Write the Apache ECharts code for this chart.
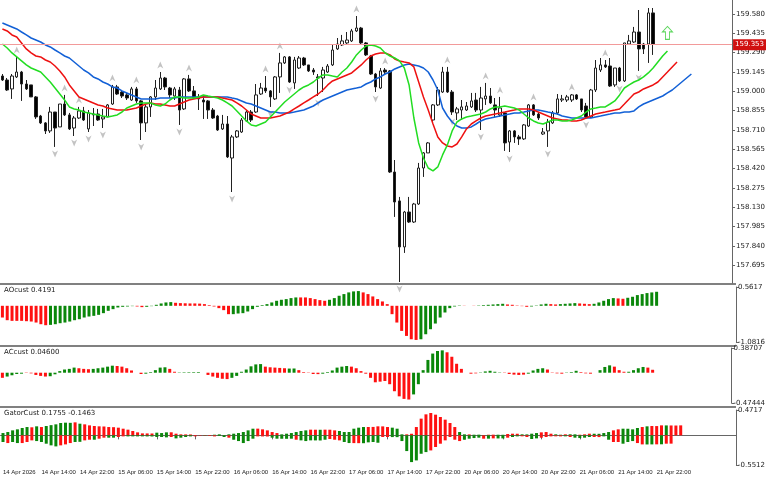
<!DOCTYPE html>
<html>
<head>
<meta charset="utf-8">
<script src="https://cdn.jsdelivr.net/npm/echarts@6/dist/echarts.min.js"></script>
<style>
  html, body { margin: 0; padding: 0; background: #fff; }
  #chart { width: 768px; height: 480px; }
</style>
</head>
<body>
<div id="chart"></div>
<script>
// hourly candles, [open, close, low, high]
const candles = [
  [159.115,159.085,159.078,159.13],[159.085,159.01,159.003,159.1],[159.018,159.115,158.943,159.13],[159.108,159.145,159.1,159.258],
  [159.145,159.055,158.928,159.153],[159.055,159.018,159.01,159.085],[159.048,158.958,158.958,159.048],[158.958,158.808,158.793,158.965],
  [158.815,158.763,158.755,158.823],[158.763,158.703,158.68,158.77],[158.703,158.845,158.688,158.883],[158.845,158.725,158.583,158.845],
  [158.733,158.905,158.733,158.905],[158.905,158.823,158.815,158.973],[158.823,158.718,158.71,158.838],[158.725,158.8,158.665,158.815],
  [158.8,158.853,158.793,158.883],[158.853,158.785,158.778,158.883],[158.718,158.838,158.695,158.86],[158.823,158.83,158.74,158.875],
  [158.83,158.785,158.778,158.868],[158.793,158.808,158.725,158.868],[158.808,158.898,158.808,158.905],[158.905,159.033,158.898,159.048],
  [159.033,158.98,158.973,159.048],[158.995,158.965,158.95,159.01],[158.973,158.95,158.935,158.988],[158.935,159.018,158.928,159.033],
  [159.018,158.928,158.913,159.033],[158.928,158.763,158.635,158.935],[158.763,158.883,158.695,158.898],[158.883,158.958,158.808,158.965],
  [158.958,159.025,158.935,159.085],[159.018,159.1,159.01,159.145],[159.1,159.033,159.01,159.108],[159.025,158.973,158.95,159.033],
  [158.965,159.018,158.935,159.033],[159.01,158.86,158.748,159.033],[158.868,159.093,158.86,159.1],[159.093,159.003,158.995,159.123],
  [159.003,158.95,158.943,159.04],[158.958,158.943,158.86,158.98],[158.935,158.92,158.793,158.965],[158.928,158.86,158.793,158.935],
  [158.86,158.8,158.793,158.875],[158.815,158.71,158.703,158.823],[158.718,158.755,158.71,158.823],[158.755,158.508,158.5,158.815],
  [158.5,158.658,158.245,158.673],[158.658,158.703,158.65,158.71],[158.695,158.785,158.688,158.8],[158.778,158.845,158.77,158.86],
  [158.845,158.785,158.77,158.86],[158.845,158.973,158.838,159.055],[158.98,159.025,158.973,159.063],[159.025,159.003,158.988,159.115],
  [159.003,158.958,158.883,159.01],[158.943,159.108,158.935,159.115],[159.108,159.213,158.988,159.288],[159.213,159.258,159.205,159.265],
  [159.258,159.07,159.063,159.265],[159.063,159.235,159.018,159.258],[159.175,159.25,159.168,159.265],[159.25,159.198,159.19,159.258],
  [159.198,159.153,159.145,159.198],[159.16,159.145,159.123,159.175],[159.108,159.1,158.965,159.13],[159.1,159.16,158.995,159.183],
  [159.145,159.19,159.138,159.205],[159.198,159.31,159.19,159.348],[159.318,159.355,159.31,159.4],[159.348,159.378,159.34,159.423],
  [159.363,159.385,159.355,159.445],[159.378,159.453,159.37,159.468],[159.453,159.475,159.445,159.565],[159.475,159.363,159.355,159.483],
  [159.363,159.273,159.265,159.37],[159.265,159.13,159.123,159.273],[159.13,159.033,158.995,159.138],[159.025,159.153,159.018,159.175],
  [159.16,159.145,159.123,159.175],[159.153,158.395,158.388,159.16],[158.395,158.17,158.058,158.485],[158.178,157.833,157.57,158.208],
  [157.833,158.095,157.788,158.103],[158.095,158.02,158.013,158.208],[158.02,158.155,158.013,158.163],[158.155,158.425,158.148,158.463],
  [158.425,158.538,158.358,158.545],[158.538,158.613,158.538,158.62],[158.785,158.898,158.77,158.905],[158.898,159.01,158.89,159.033],
  [158.995,159.145,158.988,159.183],[159.145,158.995,158.988,159.183],[158.995,158.845,158.823,159.01],[158.838,158.868,158.785,158.883],
  [158.86,158.883,158.785,158.935],[158.86,158.89,158.853,158.92],[158.883,158.928,158.875,158.988],[158.935,158.86,158.845,158.988],
  [158.86,158.95,158.71,159.033],[158.943,158.965,158.898,159.063],[158.965,158.913,158.905,159.025],[158.898,158.86,158.808,158.95],
  [158.823,158.875,158.808,158.958],[158.838,158.613,158.553,158.845],[158.62,158.703,158.545,158.71],[158.703,158.658,158.613,158.71],
  [158.658,158.643,158.598,158.673],[158.643,158.748,158.635,158.755],[158.74,158.898,158.733,158.905],[158.898,158.823,158.815,158.905],
  [158.83,158.8,158.785,158.845],[158.68,158.695,158.673,158.725],[158.703,158.77,158.583,158.793],[158.763,158.838,158.755,158.853],
  [158.838,158.943,158.823,158.98],[158.935,158.943,158.92,158.973],[158.935,158.958,158.92,158.973],[158.935,158.973,158.92,158.98],
  [158.973,158.943,158.935,158.98],[158.943,158.86,158.845,158.943],[158.89,158.808,158.8,158.913],[158.808,159.01,158.8,159.018],
  [159.01,159.175,158.995,159.235],[159.16,159.198,159.145,159.25],[159.198,159.183,159.175,159.235],[159.19,159.04,159.033,159.25],
  [159.048,159.175,159.033,159.175],[159.175,159.078,159.07,159.183],[159.078,159.363,159.07,159.363],[159.355,159.378,159.348,159.423],
  [159.37,159.445,159.363,159.483],[159.445,159.318,159.153,159.61],[159.355,159.318,159.28,159.363],[159.355,159.588,159.213,159.625],
  [159.588,159.353,159.273,159.625]
];

// alligator: jaw (blue), teeth (red), lips (green), already shifted forward
const jaw = [
  159.513,159.498,159.483,159.468,159.445,159.423,159.4,159.385,159.37,159.348,159.333,159.31,159.288,159.265,159.25,159.22,
  159.19,159.16,159.138,159.108,159.093,159.07,159.055,159.033,159.025,159.003,158.988,158.973,158.958,158.943,158.943,158.943,
  158.943,158.95,158.95,158.95,158.95,158.958,158.958,158.958,158.958,158.958,158.958,158.958,158.958,158.958,158.958,158.958,
  158.95,158.943,158.928,158.913,158.905,158.89,158.875,158.86,158.845,158.845,158.838,158.838,158.838,158.845,158.853,158.86,
  158.875,158.89,158.913,158.935,158.95,158.965,158.98,158.995,159.01,159.018,159.025,159.033,159.055,159.07,159.093,159.108,
  159.13,159.145,159.168,159.183,159.198,159.205,159.198,159.19,159.175,159.145,159.085,159.01,158.875,158.815,158.77,158.74,
  158.725,158.725,158.733,158.755,158.778,158.793,158.8,158.808,158.815,158.823,158.83,158.838,158.838,158.845,158.853,158.86,
  158.86,158.853,158.845,158.838,158.83,158.815,158.808,158.8,158.8,158.8,158.8,158.8,158.808,158.815,158.823,158.83,
  158.838,158.838,158.845,158.845,158.853,158.883,158.905,158.92,158.935,158.95,158.965,158.988,159.01,159.04,159.07,159.1,159.13
];
const teeth = [
  159.468,159.453,159.423,159.408,159.363,159.318,159.288,159.265,159.258,159.235,159.22,159.19,159.153,159.108,159.048,159.003,
  158.958,158.943,158.928,158.913,158.898,158.89,158.875,158.868,158.86,158.86,158.86,158.868,158.875,158.89,158.905,158.913,
  158.905,158.905,158.898,158.89,158.89,158.905,158.92,158.935,158.943,158.95,158.958,158.958,158.958,158.958,158.95,158.943,
  158.935,158.913,158.89,158.86,158.83,158.815,158.8,158.8,158.8,158.808,158.815,158.83,158.845,158.868,158.89,158.913,
  158.935,158.958,158.98,159.01,159.048,159.078,159.093,159.108,159.123,159.138,159.168,159.198,159.235,159.265,159.28,159.288,
  159.288,159.273,159.243,159.228,159.22,159.213,159.183,159.07,158.958,158.86,158.755,158.658,158.613,158.59,158.583,158.605,
  158.658,158.718,158.755,158.778,158.8,158.815,158.823,158.83,158.838,158.845,158.853,158.86,158.868,158.868,158.868,158.86,
  158.845,158.83,158.815,158.8,158.793,158.785,158.785,158.778,158.778,158.785,158.8,158.815,158.83,158.838,158.845,158.853,
  158.86,158.868,158.905,158.943,158.98,158.995,159.018,159.033,159.048,159.07,159.108,159.145,159.183,159.22
];
const lips = [
  159.355,159.325,159.288,159.258,159.228,159.198,159.175,159.16,159.145,159.108,159.07,159.025,158.98,158.935,158.883,158.868,
  158.86,158.845,158.838,158.83,158.823,158.815,158.808,158.815,158.823,158.845,158.875,158.89,158.905,158.913,158.913,158.913,
  158.898,158.89,158.905,158.935,158.958,158.958,158.95,158.95,158.95,158.958,158.973,158.965,158.958,158.95,158.935,158.913,
  158.89,158.853,158.815,158.778,158.748,158.74,158.755,158.77,158.808,158.845,158.883,158.92,158.95,158.98,159.01,159.033,
  159.048,159.07,159.1,159.123,159.123,159.115,159.108,159.145,159.175,159.22,159.273,159.31,159.34,159.348,159.34,159.325,
  159.288,159.265,159.25,159.228,159.175,159.048,158.8,158.613,158.5,158.425,158.403,158.433,158.523,158.598,158.703,158.77,
  158.793,158.808,158.815,158.823,158.83,158.845,158.868,158.883,158.883,158.89,158.883,158.875,158.86,158.83,158.8,158.778,
  158.763,158.755,158.77,158.785,158.785,158.778,158.778,158.785,158.8,158.815,158.845,158.868,158.875,158.883,158.883,158.905,
  158.928,158.973,159.025,159.048,159.07,159.085,159.108,159.138,159.175,159.22,159.265,159.303
];

const fractalUp = [3,13,16,23,28,33,39,55,58,74,80,93,101,104,111,119,126];
const fractalDown = [11,15,18,21,29,37,48,56,60,66,78,83,94,100,106,114,122,129,133];
const lastPrice = 159.353;
const signalBar = 139, signalPrice = 159.438;

const priceTicks = [157.695,157.840,157.985,158.130,158.275,158.420,158.565,158.710,158.855,159.000,159.145,159.290,159.435,159.580];

const aoValues = [
  -0.35,-0.43,-0.45,-0.45,-0.45,-0.46,-0.47,-0.50,-0.55,-0.58,-0.57,-0.55,-0.52,-0.50,-0.47,-0.43,-0.40,-0.35,-0.32,-0.30,
  -0.27,-0.22,-0.15,-0.10,-0.05,-0.03,-0.02,-0.01,-0.02,-0.04,-0.03,-0.01,0.03,0.07,0.10,0.11,0.09,0.08,0.075,0.07,
  0.07,0.065,0.05,0.02,-0.02,-0.07,-0.13,-0.25,-0.25,-0.23,-0.22,-0.17,-0.10,-0.03,0.02,0.05,0.10,0.15,0.18,0.20,
  0.23,0.25,0.25,0.25,0.23,0.20,0.17,0.15,0.18,0.23,0.30,0.35,0.40,0.43,0.44,0.40,0.35,0.28,0.20,0.13,
  0.05,-0.25,-0.50,-0.75,-0.90,-1.00,-1.02,-1.00,-0.85,-0.70,-0.53,-0.35,-0.20,-0.07,-0.02,0.01,0.005,0.0,-0.005,0.01,
  0.02,0.03,0.04,0.05,0.06,0.04,0.03,0.01,-0.01,-0.03,-0.02,0.01,0.04,0.06,0.05,0.04,0.05,0.06,0.07,0.08,
  0.07,0.06,0.05,0.06,0.10,0.15,0.20,0.23,0.22,0.21,0.24,0.27,0.32,0.35,0.38,0.40,0.4191
];
const aoColors = ['rrrrrrrrrr','gggggggggggggggggg','rr','gggggg','rrrrrrrrrrrr','gggggggggggggg','rrrrrr','ggggggg',
  'rrrrrrrrrrrr','ggggggggg','rrr','gggggg','rrrrr','gggg','rr','gggg','rrr','ggggg','rr','ggggggg'].join('');

const acValues = [
  -0.08,-0.06,-0.04,-0.02,-0.015,-0.005,-0.01,-0.035,-0.05,-0.06,-0.055,-0.025,0.025,0.05,0.06,0.08,0.07,0.06,0.055,0.06,
  0.07,0.08,0.095,0.11,0.105,0.095,0.07,0.035,0.0,-0.02,-0.015,0.01,0.04,0.08,0.085,0.06,0.015,0.005,0.007,0.008,
  0.009,0.01,0.0,-0.035,-0.06,-0.08,-0.095,-0.10,-0.08,-0.05,0.015,0.05,0.10,0.13,0.135,0.095,0.085,0.08,0.075,0.07,
  0.065,0.066,0.04,0.01,-0.005,-0.02,-0.022,-0.015,0.01,0.035,0.08,0.095,0.105,0.095,0.07,0.025,-0.015,-0.08,-0.15,-0.14,
  -0.13,-0.18,-0.29,-0.37,-0.41,-0.42,-0.34,-0.18,0.04,0.20,0.30,0.34,0.35,0.32,0.25,0.14,0.06,0.0,-0.015,-0.01,
  0.005,0.02,0.03,0.015,0.005,-0.005,-0.02,-0.03,-0.035,-0.03,-0.015,0.035,0.06,0.07,0.05,0.005,-0.01,-0.015,-0.005,0.01,
  0.03,0.01,-0.01,-0.015,0.0,0.04,0.09,0.115,0.095,0.04,0.015,0.015,0.04,0.07,0.09,0.08,0.046
];
const acColors = ['r','gggg','rrrrr','gggggg','rrr','ggggg','rrrrrr','ggggg','rr','ggggg','rrrrrr','ggggggg','rrrrr','gg',
  'rrrrr','gggggg','rrrrrrrrrrrrr','ggggggg','rrrrrrr','ggggg','rrrrr','gggg','rrrr','ggg','rrr','gggg','rrr','gggg','rr'].join('');

const gatorUp = [
  0.043,0.062,0.093,0.112,0.137,0.155,0.15,0.168,0.155,0.174,0.19,0.205,0.23,0.236,0.233,0.242,0.217,0.205,0.186,0.174,
  0.168,0.165,0.155,0.152,0.143,0.124,0.106,0.081,0.056,0.037,0.036,0.035,0.05,0.043,0.056,0.057,0.031,0.019,0.018,0.017,
  0.003,0.003,0.006,0.003,0.012,0.019,0.003,0.019,0.031,0.043,0.062,0.093,0.124,0.125,0.112,0.093,0.062,0.043,0.019,0.031,
  0.043,0.062,0.081,0.093,0.106,0.105,0.104,0.106,0.105,0.093,0.081,0.062,0.063,0.124,0.143,0.155,0.156,0.157,0.168,0.167,
  0.155,0.143,0.124,0.019,0.019,0.03,0.155,0.311,0.391,0.416,0.385,0.342,0.292,0.23,0.155,0.062,0.019,0.018,0.012,0.013,
  0.006,0.012,0.013,0.012,0.011,0.025,0.031,0.03,0.019,0.018,0.031,0.043,0.056,0.062,0.031,0.019,0.012,0.019,0.02,0.019,
  0.012,0.019,0.031,0.03,0.029,0.043,0.062,0.093,0.112,0.124,0.123,0.112,0.137,0.155,0.168,0.174,0.173,0.186,0.185,0.184,
  0.183,0.186
];
const gatorUpColors = [
  'ggggggrgrggggggrgrrrrrrrrrrrrrrrgggrrrrrrrgggggggggggrrrrrggggg',
  'grrgrrrggggggrrrrrgggrrrrrrrrrrrggrgggrrggrrrggggrrrggrggrrrggggrrggggrgrrrg'
].join('');
const gatorDown = [
  -0.124,-0.143,-0.124,-0.143,-0.143,-0.124,-0.093,-0.106,-0.124,-0.155,-0.186,-0.205,-0.186,-0.168,-0.143,-0.124,-0.12,-0.093,-0.081,-0.081,
  -0.062,-0.043,-0.043,-0.043,-0.031,-0.019,-0.019,-0.019,-0.019,-0.019,-0.02,-0.021,-0.031,-0.031,-0.037,-0.031,-0.056,-0.043,-0.031,-0.019,
  -0.018,-0.006,-0.006,-0.012,-0.019,-0.012,-0.031,-0.043,-0.081,-0.106,-0.143,-0.106,-0.062,-0.019,-0.02,-0.021,-0.043,-0.062,-0.063,-0.064,
  -0.062,-0.081,-0.093,-0.106,-0.093,-0.094,-0.095,-0.081,-0.068,-0.081,-0.093,-0.124,-0.143,-0.144,-0.145,-0.146,-0.13,-0.124,-0.137,-0.031,
  -0.031,-0.032,-0.033,-0.106,-0.292,-0.497,-0.466,-0.342,-0.311,-0.28,-0.217,-0.155,-0.093,-0.031,-0.081,-0.106,-0.081,-0.062,-0.05,-0.043,
  -0.062,-0.061,-0.056,-0.057,-0.056,-0.043,-0.031,-0.019,-0.018,-0.031,-0.068,-0.056,-0.043,-0.031,-0.019,-0.018,-0.019,-0.018,-0.031,-0.043,
  -0.05,-0.043,-0.031,-0.031,-0.032,-0.019,-0.081,-0.124,-0.123,-0.155,-0.124,-0.106,-0.143,-0.168,-0.169,-0.168,-0.167,-0.166,-0.155,-0.154
];
const gatorDownColors = [
  'grggrrrgggggrrrggrrgrrggrrgggggggggrggggrrrrrggrgggggrrrgggggrggggggrrrggrrggggrr',
  'ggggggggrrrrrrrggggrgrggrggrrggrrrrrgrggggrrggrrgggrrggrgrrrr'
].join('');

const weekdayStart = new Date(2026, 3, 14, 6);
const totalSlots = 153;
const lastLabelled = 136;

const cats = [];
let t = new Date(weekdayStart);
for (let i = 0; i < totalSlots; i++) {
  const d = t.getDate(), h = t.getHours();
  cats.push(i === 0 ? '14 Apr 2026' : d + ' Apr ' + String(h).padStart(2, '0') + ':00');
  t = new Date(t.getTime() + 3600000);
  if (t.getDay() === 6) t = new Date(t.getTime() + 48 * 3600000);
}

const GREEN = '#0a870a', RED = '#ff1010';
function colored(values, flags) {
  return values.map((v, i) => ({ value: v, itemStyle: { color: flags[i] === 'g' ? GREEN : RED } }));
}

const showTime = i => i % 8 === 0 && i <= lastLabelled;
const axisFont = { fontFamily: 'DejaVu Sans', fontSize: 7, color: '#222' };
const timeFont = { fontFamily: 'Liberation Sans', fontSize: 6, color: '#222' };
const grids = [
  { left: 0, right: 32, top: 0, height: 283 },
  { left: 0, right: 32, top: 287, height: 55 },
  { left: 0, right: 32, top: 348, height: 55 },
  { left: 0, right: 32, top: 410, height: 55 }
];
const xAxes = grids.map((g, i) => ({
  type: 'category', gridIndex: i, data: cats, boundaryGap: true,
  axisLine: { show: i === 3, lineStyle: { color: '#666' } },
  axisTick: { show: i === 3, interval: showTime, alignWithLabel: true, length: 4, lineStyle: { color: '#666' } },
  axisLabel: Object.assign({ show: i === 3, interval: showTime, align: 'left', margin: 4, hideOverlap: false }, timeFont),
  splitLine: { show: false }
}));

function subAxis(idx, min, max) {
  return {
    type: 'value', gridIndex: idx, position: 'right', min: min, max: max,
    axisLine: { show: true, lineStyle: { color: '#666' } },
    axisTick: { show: true, length: 3, customValues: [min, max], lineStyle: { color: '#666' } },
    axisLabel: Object.assign({ customValues: [min, max], margin: 2, formatter: v => String(v) }, axisFont),
    splitLine: { show: false }
  };
}

const yAxes = [
  {
    type: 'value', gridIndex: 0, position: 'right', min: 157.5625, max: 159.685,
    axisLine: { show: true, lineStyle: { color: '#666' } },
    axisTick: { show: true, length: 3, customValues: priceTicks, lineStyle: { color: '#666' } },
    axisLabel: Object.assign({ customValues: priceTicks, margin: 4, formatter: v => v.toFixed(3) }, axisFont),
    splitLine: { show: false }
  },
  subAxis(1, -1.0816, 0.5617),
  subAxis(2, -0.47444, 0.38707),
  subAxis(3, -0.5512, 0.4717)
];

const arrowPath = 'path://M5,0 L10,10 L5,7 L0,10 Z';

const option = {
  animation: false,
  backgroundColor: '#fff',
  grid: grids,
  xAxis: xAxes,
  yAxis: yAxes,
  series: [
    {
      type: 'candlestick', xAxisIndex: 0, yAxisIndex: 0, data: candles, barWidth: 3,
      itemStyle: { color: '#fff', color0: '#000', borderColor: '#222', borderColor0: '#222', borderWidth: 1 },
      markLine: {
        symbol: 'none', silent: true,
        lineStyle: { color: '#f29a9a', type: 'solid', width: 1 },
        label: { position: 'end', formatter: lastPrice.toFixed(3), color: '#fff', backgroundColor: '#d01010',
          fontFamily: 'DejaVu Sans', fontSize: 7, padding: [2, 2], distance: 1 },
        data: [{ yAxis: lastPrice }]
      }
    },
    { type: 'line', xAxisIndex: 0, yAxisIndex: 0, data: jaw, showSymbol: false, lineStyle: { color: '#1260d6', width: 1.5 } },
    { type: 'line', xAxisIndex: 0, yAxisIndex: 0, data: teeth, showSymbol: false, lineStyle: { color: '#ee1111', width: 1.5 } },
    { type: 'line', xAxisIndex: 0, yAxisIndex: 0, data: lips, showSymbol: false, lineStyle: { color: '#22dd22', width: 1.5 } },
    {
      type: 'scatter', xAxisIndex: 0, yAxisIndex: 0, symbol: arrowPath, symbolSize: [6, 7], symbolOffset: [0, -7],
      itemStyle: { color: '#b4b4b4' },
      data: fractalUp.map(i => [i, candles[i][3]])
    },
    {
      type: 'scatter', xAxisIndex: 0, yAxisIndex: 0, symbol: arrowPath, symbolSize: [6, 7], symbolOffset: [0, 7], symbolRotate: 180,
      itemStyle: { color: '#b4b4b4' },
      data: fractalDown.map(i => [i, candles[i][2]])
    },
    {
      type: 'scatter', xAxisIndex: 0, yAxisIndex: 0,
      symbol: 'path://M5,0 L10,5 L7,5 L7,12 L3,12 L3,5 L0,5 Z', symbolSize: [10, 13],
      itemStyle: { color: '#fff', borderColor: '#33cc33', borderWidth: 1 },
      data: [[signalBar, signalPrice]]
    },
    { type: 'bar', xAxisIndex: 1, yAxisIndex: 1, barWidth: 3, data: colored(aoValues, aoColors) },
    { type: 'bar', xAxisIndex: 2, yAxisIndex: 2, barWidth: 3, data: colored(acValues, acColors) },
    { type: 'bar', xAxisIndex: 3, yAxisIndex: 3, barWidth: 3, barGap: '-100%', data: colored(gatorUp, gatorUpColors) },
    { type: 'bar', xAxisIndex: 3, yAxisIndex: 3, barWidth: 3, barGap: '-100%', data: colored(gatorDown, gatorDownColors) }
  ],
  graphic: [
    { type: 'rect', shape: { x: 0, y: 283, width: 736, height: 2 }, style: { fill: '#808080' } },
    { type: 'rect', shape: { x: 0, y: 345, width: 736, height: 2 }, style: { fill: '#808080' } },
    { type: 'rect', shape: { x: 0, y: 406, width: 736, height: 2 }, style: { fill: '#808080' } },
    { type: 'text', left: 4, top: 287, style: { text: 'AOcust 0.4191', font: '7px DejaVu Sans', fill: '#222' } },
    { type: 'text', left: 4, top: 349, style: { text: 'ACcust 0.04600', font: '7px DejaVu Sans', fill: '#222' } },
    { type: 'text', left: 4, top: 410, style: { text: 'GatorCust 0.1755 -0.1463', font: '7px DejaVu Sans', fill: '#222' } }
  ]
};

const chart = echarts.init(document.getElementById('chart'));
chart.setOption(option);
</script>
</body>
</html>
